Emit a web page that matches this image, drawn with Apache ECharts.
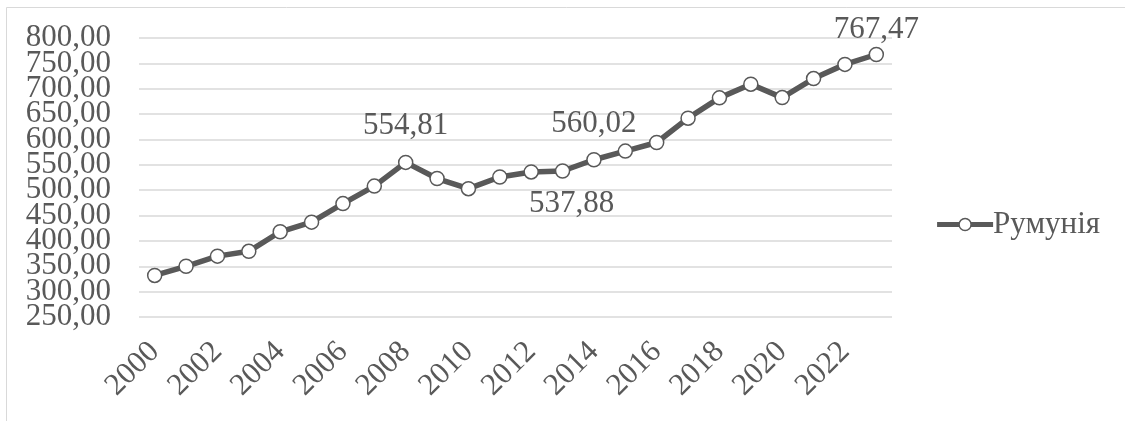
<!DOCTYPE html>
<html>
<head>
<meta charset="utf-8">
<script src="https://cdn.jsdelivr.net/npm/echarts@6/dist/echarts.min.js"></script>
<style>
  html, body { margin: 0; padding: 0; background: #fff; }
  #main { width: 1125px; height: 421px; }
</style>
</head>
<body>
<div id="main"></div>
<script>
// дані з графіка
const years = ['2000','2001','2002','2003','2004','2005','2006','2007','2008','2009','2010','2011',
               '2012','2013','2014','2015','2016','2017','2018','2019','2020','2021','2022','2023'];
const romania = [332, 350, 370, 379.5, 418, 437, 473.5, 508, 554.81, 523, 503, 526,
                 536, 537.88, 560.02, 577, 594, 642, 682, 709, 682.5, 720, 748, 767.47];
const seriesName = 'Румунія';
const yMin = 250, yMax = 800, yStep = 50;

// підписи лише для кількох точок
const labelAt = { '2008': 'top', '2013': 'bottom', '2014': 'top', '2023': 'top' };

const gray = '#595959';
const font = 'Liberation Serif';
const fmt = v => Number(v).toFixed(2).replace('.', ',');

let myChart = echarts.init(document.getElementById('main'));

let seriesData = romania.map(function (v, i) {
    let pos = labelAt[years[i]];
    if (!pos) return v;
    return {
        value: v,
        label: {
            show: true,
            position: pos,
            distance: pos === 'bottom' ? 10 : (years[i] === '2023' ? 1 : 13),
            offset: years[i] === '2013' ? [9, 0] : [0, 0],
            formatter: p => fmt(p.value),
            color: gray,
            fontFamily: font,
            fontSize: 31
        }
    };
});

let yLabel = {
    margin: 28,
    color: gray,
    fontFamily: font,
    fontSize: 31
};

let option = {
    backgroundColor: '#fff',
    animation: false,
    graphic: [{
        type: 'rect',
        shape: { x: 6.5, y: 7.5, width: 1200, height: 500 },
        style: { fill: 'none', stroke: '#d9d9d9', lineWidth: 1 },
        silent: true
    }],
    grid: { left: 139, right: 233, top: 38, bottom: 104 },
    legend: {
        data: [seriesName],
        right: 20,
        top: 204,
        itemWidth: 56,
        itemHeight: 15,
        itemGap: 0,
        lineStyle: { color: gray, width: 5 },
        itemStyle: { color: '#fff', borderColor: gray, borderWidth: 1.5 },
        textStyle: { color: gray, fontFamily: font, fontSize: 31, padding: [0, 0, 0, -5] }
    },
    xAxis: {
        type: 'category',
        data: years,
        boundaryGap: true,
        axisLine: { show: false },
        axisTick: { show: false },
        axisLabel: {
            interval: 1,
            rotate: 45,
            margin: 30,
            color: gray,
            fontFamily: font,
            fontSize: 31
        }
    },
    yAxis: [{
        // внутрішні підписи 300..750
        type: 'value',
        min: yMin,
        max: yMax,
        interval: yStep,
        axisLine: { show: false },
        axisTick: { show: false },
        axisLabel: Object.assign({}, yLabel, {
            showMinLabel: false,
            showMaxLabel: false,
            formatter: fmt
        }),
        splitLine: { lineStyle: { color: '#d9d9d9', width: 1.5 } }
    }, {
        // крайні підписи 250 і 800 (щоб не ховались через накладання)
        type: 'value',
        position: 'left',
        min: yMin,
        max: yMax,
        interval: yStep,
        axisLine: { show: false },
        axisTick: { show: false },
        splitLine: { show: false },
        axisLabel: Object.assign({}, yLabel, {
            showMinLabel: true,
            showMaxLabel: true,
            formatter: v => (v === yMin || v === yMax) ? fmt(v) : ''
        })
    }],
    series: [{
        name: seriesName,
        type: 'line',
        yAxisIndex: 0,
        data: seriesData,
        symbol: 'circle',
        symbolSize: 14,
        lineStyle: { color: gray, width: 5.5 },
        itemStyle: { color: '#fff', borderColor: gray, borderWidth: 1.5 }
    }]
};

myChart.setOption(option);
</script>
</body>
</html>
